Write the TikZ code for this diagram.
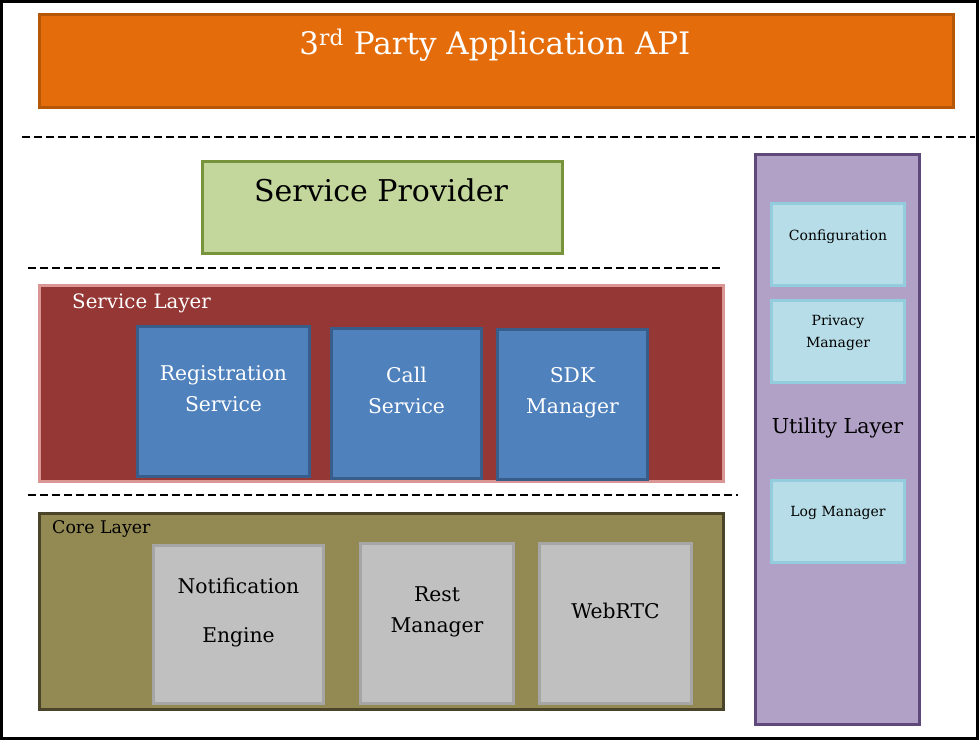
\documentclass[tikz,border=0pt]{standalone}
\usepackage{fontspec}
\setmainfont{DejaVu Serif}
\definecolor{apiorange}{HTML}{E46C0A}
\definecolor{apiborder}{HTML}{B65708}
\definecolor{provgreen}{HTML}{C3D69B}
\definecolor{provborder}{HTML}{77933C}
\definecolor{svcred}{HTML}{953735}
\definecolor{svcborder}{HTML}{D99694}
\definecolor{modblue}{HTML}{4F81BD}
\definecolor{modborder}{HTML}{385D8A}
\definecolor{coreolive}{HTML}{938953}
\definecolor{coreborder}{HTML}{4A452A}
\definecolor{coregray}{HTML}{C0C0C0}
\definecolor{grayborder}{HTML}{A6A6A6}
\definecolor{utilpurple}{HTML}{B2A1C7}
\definecolor{utilborder}{HTML}{5F497A}
\definecolor{utilblue}{HTML}{B7DEE8}
\definecolor{utilbluebd}{HTML}{93CDDD}
\begin{document}
\begin{tikzpicture}[
				x=1pt, y=-1pt,
				every node/.style={
						inner sep=0pt, align=center,
					},
				layer/.style={
						draw, line width=3pt, anchor=north west,
					},
				sep/.style={
						line width=1.4pt, dash pattern=on 8pt off 4pt,
					},]
			\useasboundingbox (0,0) rectangle (979,740);
			\draw [line width=3pt] (1.5,1.5) rectangle (977.5,738.5);
			% api on top
			\node[layer, fill=apiorange, draw=apiborder, minimum width=914pt, minimum height=93pt] (api) at (38,13) {};
			\node[font=\fontsize{31}{34}\selectfont, text=white] (apitext) at (495,45) {3\textsuperscript{rd} Party Application API};
			\draw [sep] (22,137) -- (975,137);
			% service provider
			\node[layer, fill=provgreen, draw=provborder, minimum width=360pt, minimum height=92pt] (prov) at (201,160) {};
			\node[font=\fontsize{30}{34}\selectfont] (provtext) at (381,190) {Service Provider};
			\draw [sep] (28,268) -- (723,268);
			% service layer
			\node[layer, fill=svcred, draw=svcborder, minimum width=684pt, minimum height=196pt] (svc) at (38,284) {};
			\node[font=\fontsize{19.8}{22}\selectfont, text=white, anchor=west] (svctext) at (72,303) {Service Layer};
			\foreach \x/\y/\w/\n/\t/\ty in {136/325/172/reg/{Registration\\Service}/389, 330/327/150/call/{Call\\Service}/390, 496/328/150/sdk/{SDK\\Manager}/393} {
					\node[layer, fill=modblue, draw=modborder, minimum width=\w pt, minimum height=150pt] (\n) at (\x,\y) {};
					\node[font=\fontsize{20.3}{31}\selectfont, text=white] (\n text) at (\n.center |- 0,\ty) {\t};
				}
			\draw [sep] (28,495) -- (738,495);
			% core layer
			\node[layer, fill=coreolive, draw=coreborder, minimum width=684pt, minimum height=196pt] (core) at (38,512) {};
			\node[font=\fontsize{17.4}{20}\selectfont, anchor=west] (coretext) at (52,529) {Core Layer};
			\node[layer, fill=coregray, draw=grayborder, minimum width=170pt, minimum height=158pt] (notif) at (152,544) {};
			\node[layer, fill=coregray, draw=grayborder, minimum width=153pt, minimum height=160pt] (rest) at (359,542) {};
			\node[layer, fill=coregray, draw=grayborder, minimum width=152pt, minimum height=160pt] (rtc) at (538,542) {};
			\node[font=\fontsize{20.3}{49}\selectfont] (notiftext) at (notif.center |- 0,613) {Notification\\Engine};
			\node[font=\fontsize{20.3}{31}\selectfont] (resttext) at (rest.center |- 0,612) {Rest\\Manager};
			\node[font=\fontsize{20.3}{31}\selectfont] (rtctext) at (rtc.center |- 0,611) {WebRTC};
			% utility layer
			\node[layer, fill=utilpurple, draw=utilborder, minimum width=164pt, minimum height=570pt] (util) at (754,153) {};
			\node[font=\fontsize{20.6}{24}\selectfont] (utiltext) at (util.center |- 0,428) {Utility Layer};
			\foreach \y/\n/\t/\ty in {202/conf/{Configuration}/237, 299/priv/{Privacy\\Manager}/333, 479/log/{Log Manager}/513} {
					\node[layer, fill=utilblue, draw=utilbluebd, minimum width=133pt, minimum height=82pt] (\n) at (770,\y) {};
					\node[font=\fontsize{14}{22}\selectfont] (\n text) at (\n.center |- 0,\ty) {\t};
				}
		\end{tikzpicture}
\end{document}
